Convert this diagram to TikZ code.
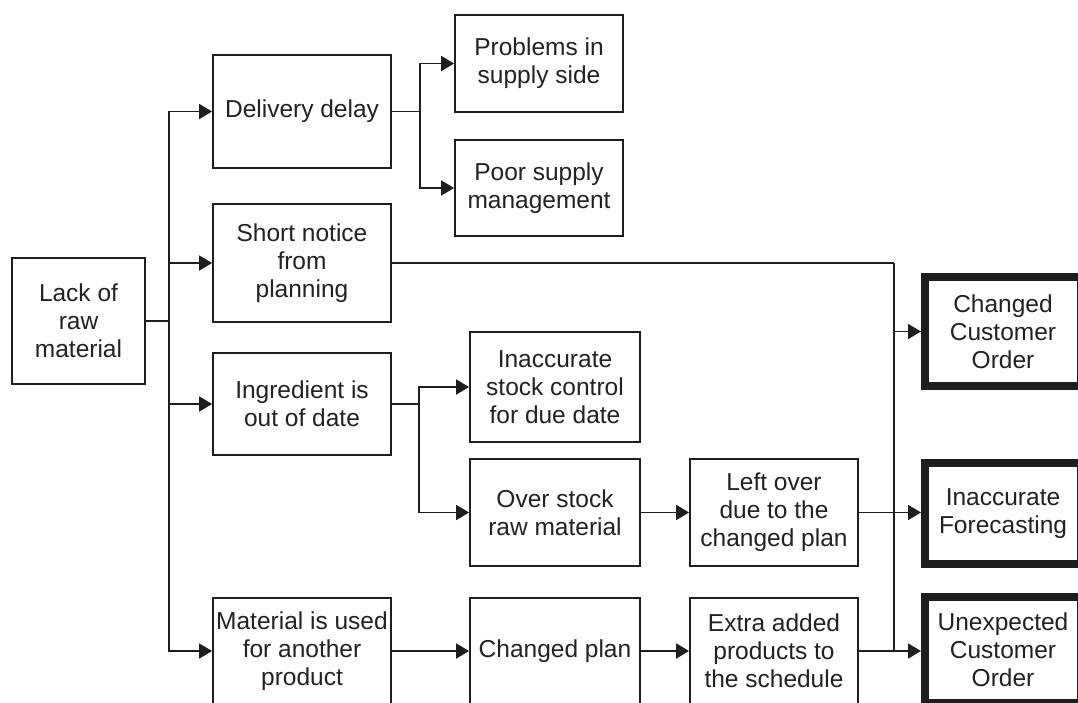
\documentclass[tikz,border=0pt]{standalone}
\usepackage{fontspec}
\setmainfont{Liberation Sans}
\usetikzlibrary{arrows.meta}
\definecolor{ink}{HTML}{1E1E1E}
\definecolor{txt}{HTML}{222222}
\tikzset{
  box/.style={draw=ink, line width=1.8pt, inner sep=1pt, align=center, text=txt,
    font=\fontsize{24.5}{28}\selectfont},
  bigbox/.style={box, line width=8pt},
  link/.style={draw=ink, line width=1.8pt},
  arr/.style={link, -{Triangle[length=13pt,width=15pt]}}
}
\begin{document}
\begin{tikzpicture}[x=1pt,y=-1pt]
\useasboundingbox[fill=white] (0,0) rectangle (1078,702);
% nodes
\node[box, minimum width=133pt, minimum height=126pt] (lack) at (78.5,321) {Lack of\\raw\\material};
\node[box, minimum width=178pt, minimum height=113pt] (delay) at (302,111.5) {Delivery delay};
\node[box, minimum width=168pt, minimum height=97pt] (prob) at (539,63.5) {Problems in\\supply side};
\node[box, minimum width=168pt, minimum height=96pt] (poor) at (539,188) {Poor supply\\management};
\node[box, minimum width=178pt, minimum height=118pt] (short) at (302,263) {Short notice\\from\\planning};
\node[box, minimum width=178pt, minimum height=102pt] (ingr) at (302,404) {Ingredient is\\out of date};
\node[box, minimum width=170pt, minimum height=110pt] (stock) at (555,387) {Inaccurate\\stock control\\for due date};
\node[box, minimum width=170pt, minimum height=107pt] (over) at (555,512.5) {Over stock\\raw material};
\node[box, minimum width=168pt, minimum height=107pt] (left) at (774,512.5) {Left over\\due to the\\changed plan};
\node[box, minimum width=178pt, minimum height=106pt] (mat) at (302,651) {Material is used\\for another\\product};
\node[box, minimum width=170pt, minimum height=106pt] (cplan) at (555,651) {Changed plan};
\node[box, minimum width=168pt, minimum height=106pt] (extra) at (774,651) {Extra added\\products to\\the schedule};
\node[bigbox, minimum width=156pt, minimum height=109pt] (cco) at (1003,331.5) {Changed\\Customer\\Order};
\node[bigbox, minimum width=156pt, minimum height=101pt] (fore) at (1003,513.5) {Inaccurate\\Forecasting};
\node[bigbox, minimum width=156pt, minimum height=106pt] (unexp) at (1003,650) {Unexpected\\Customer\\Order};
% junctions
\coordinate (j1) at (169,321);
\coordinate (j2) at (420,111.5);
\coordinate (j3) at (419,404);
\coordinate (j4) at (894,263);
\coordinate (j5) at (894,651);
% connectors
\draw[link] (lack.east) -- (j1);
\draw[arr] (j1) |- (delay.west);
\draw[arr] (j1) |- (short.west);
\draw[arr] (j1) |- (ingr.west);
\draw[arr] (j1) |- (mat.west);
\draw[link] (delay.east) -- (j2);
\draw[arr] (j2) |- (prob.west);
\draw[arr] (j2) |- (poor.west);
\draw[link] (ingr.east) -- (j3);
\draw[arr] (j3) |- (stock.west);
\draw[arr] (j3) |- (over.west);
\draw[arr] (over.east) -- (left.west);
\draw[arr] (mat.east) -- (cplan.west);
\draw[arr] (cplan.east) -- (extra.west);
\draw[link] (short.east) -- (j4);
\draw[arr] (j4) |- (cco.west);
\draw[link] (j4) -- (j5);
\draw[arr] (left.east) -- (left.east -| fore.west);
\draw[arr] (extra.east) -- (extra.east -| unexp.west);
\end{tikzpicture}
\end{document}
